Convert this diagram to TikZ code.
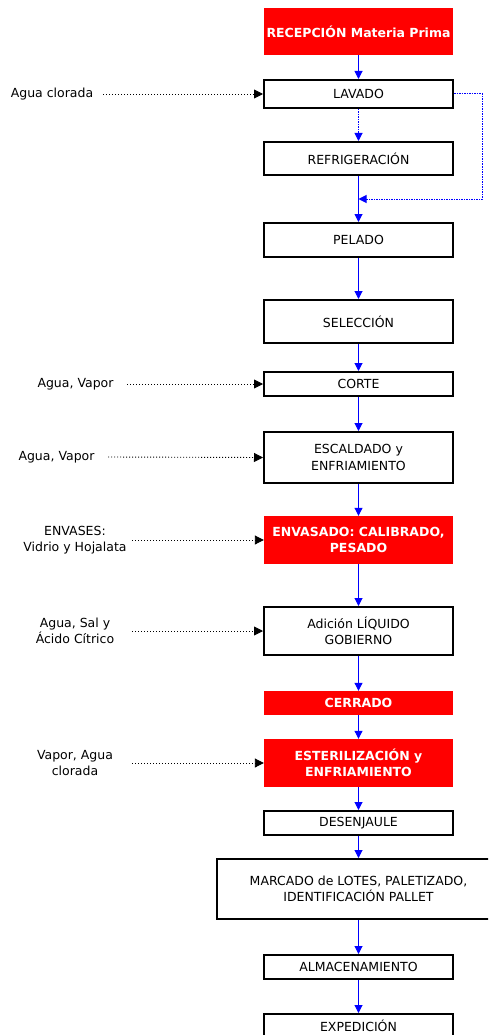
\documentclass[tikz,border=0pt]{standalone}
\usepackage{fontspec}
\setmainfont{DejaVu Sans}
\usetikzlibrary{arrows.meta}
\definecolor{rojo}{RGB}{255,0,0}
\definecolor{azul}{RGB}{0,0,255}
\begin{document}
\begin{tikzpicture}[x=1pt,y=-1pt,
  every node/.style={font=\fontsize{12.5}{16.5}\selectfont, align=center, inner sep=0pt},
  proc/.style={draw=black, line width=2pt, fill=white, minimum width=189pt},
  redproc/.style={fill=rojo, text=white, font=\fontsize{12.5}{16.5}\selectfont\bfseries, minimum width=189pt},
  flow/.style={draw=azul, line width=1pt, -{Triangle[length=8pt,width=8pt]}},
  flowdot/.style={draw=azul, line width=1pt, dash pattern=on 1.5pt off 1pt, -{Triangle[length=8pt,width=8pt]}},
  input/.style={draw=black, line width=0.9pt, dash pattern=on 1pt off 2pt, -{Triangle[length=9pt,width=9pt]}},
  lab/.style={text=black}
]
\clip (0,0) rectangle (488,1035);
\fill[white] (0,0) rectangle (488,1035);

% process boxes
\node[redproc, minimum height=47pt] (rec) at (358.5,31.5) {RECEPCIÓN Materia Prima};
\node[proc, minimum height=28pt] (lav) at (358.5,94) {LAVADO};
\node[proc, minimum height=33pt] (ref) at (358.5,158.5) {REFRIGERACIÓN};
\node[proc, minimum height=34pt] (pel) at (358.5,240) {PELADO};
\node[proc, minimum height=43pt] (sel) at (358.5,321.5) {SELECCIÓN};
\node[proc, minimum height=24pt] (cor) at (358.5,384) {CORTE};
\node[proc, minimum height=51pt] (esc) at (358.5,457.5) {ESCALDADO y\\ENFRIAMIENTO};
\node[redproc, minimum height=48pt] (env) at (358.5,540) {ENVASADO: CALIBRADO,\\PESADO};
\node[proc, minimum height=48pt] (adi) at (358.5,631) {Adición LÍQUIDO\\GOBIERNO};
\node[redproc, minimum height=24pt] (cer) at (358.5,703) {CERRADO};
\node[redproc, minimum height=48pt] (est) at (358.5,763) {ESTERILIZACIÓN y\\ENFRIAMIENTO};
\node[proc, minimum height=24pt] (des) at (358.5,823) {DESENJAULE};
\node[proc, minimum height=60pt, minimum width=283pt] (mar) at (358.5,889) {MARCADO de LOTES, PALETIZADO,\\IDENTIFICACIÓN PALLET};
\node[proc, minimum height=24pt] (alm) at (358.5,967) {ALMACENAMIENTO};
\node[proc, minimum height=24pt] (exp) at (358.5,1026) {EXPEDICIÓN};

% main flow
\coordinate (join) at (358.5,199);
\draw[flow] (rec) -- (lav);
\draw[flowdot] (lav) -- (ref);
\draw[flow] (ref) -- (pel);
\draw[flowdot] (lav.east) -- ++(28,0) |- (join);
\draw[flow] (pel) -- (sel);
\draw[flow] (sel) -- (cor);
\draw[flow] (cor) -- (esc);
\draw[flow] (esc) -- (env);
\draw[flow] (env) -- (adi);
\draw[flow] (adi) -- (cer);
\draw[flow] (cer) -- (est);
\draw[flow] (est) -- (des);
\draw[flow] (des) -- (mar);
\draw[flow] (mar) -- (alm);
\draw[flow] (alm) -- (exp);

% inputs
\node[lab] (i1) at (52,94) {Agua clorada};
\node[lab] (i2) at (75.5,384) {Agua, Vapor};
\node[lab] (i3) at (56.5,457) {Agua, Vapor};
\node[lab] (i4) at (75,540) {ENVASES:\\Vidrio y Hojalata};
\node[lab] (i5) at (75,631) {Agua, Sal y\\Ácido Cítrico};
\node[lab] (i6) at (75,763) {Vapor, Agua\\clorada};
\coordinate (s1) at (103,94);
\coordinate (s2) at (127,384);
\coordinate (s3) at (108,457);
\coordinate (s4) at (132,540);
\coordinate (s5) at (132,631);
\coordinate (s6) at (132,763);
\draw[input] (s1) -- (lav.west);
\draw[input] (s2) -- (cor.west);
\draw[input] (s3) -- (esc.west);
\draw[input] (s4) -- (env.west);
\draw[input] (s5) -- (adi.west);
\draw[input] (s6) -- (est.west);
\end{tikzpicture}
\end{document}
